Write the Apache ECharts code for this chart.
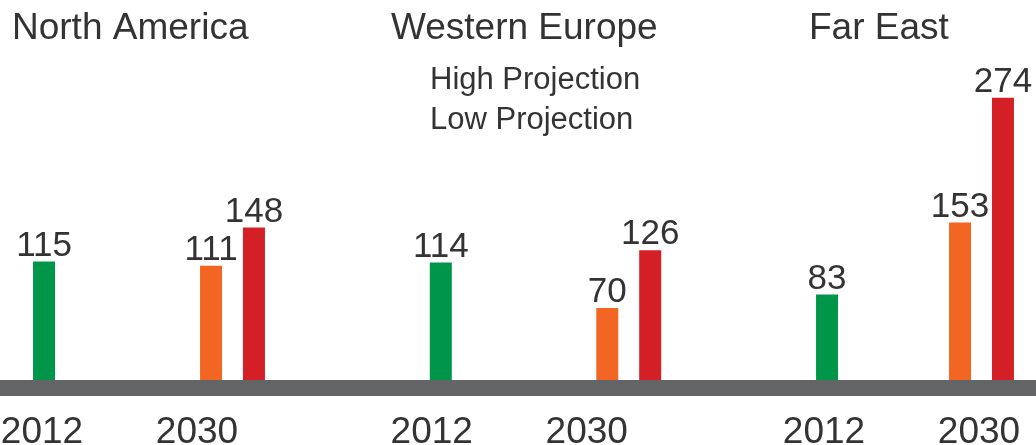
<!DOCTYPE html>
<html>
<head>
<meta charset="utf-8">
<script src="https://cdn.jsdelivr.net/npm/echarts@6/dist/echarts.min.js"></script>
<style>
html,body{margin:0;padding:0;background:#fff;}
#chart{width:1036px;height:445px;}
</style>
</head>
<body>
<div id="chart"></div>
<script>
// ---- data ----
const categories = ['2012', '2030'];
const regions = ['North America', 'Western Europe', 'Far East'];
const base2012 = [115, 114, 83];
const lowProjection = [111, 70, 153];
const highProjection = [148, 126, 274];
const seriesNames = ['2012', 'Low Projection', 'High Projection'];
const legendNames = ['High Projection', 'Low Projection'];

// ---- style / layout ----
const FONT = 'Arial';
const TEXT = '#333333';
const colors = { '2012': '#00964a', 'Low Projection': '#f26522', 'High Projection': '#d41f26' };
const gridLeft = [-18, 379, 782];
const gridWidth = [334, 333, 266];
const labelShift = [[-23.5, -35.5], [-30.5, -42], [-24.5, -2.5]];
const titleLeft = [12, 391, 809];
const yMax = 300;

const chart = echarts.init(document.getElementById('chart'), null, { renderer: 'canvas' });

const grids = [], xAxes = [], yAxes = [], series = [], titles = [];
regions.forEach((r, g) => {
  grids.push({ left: gridLeft[g], width: gridWidth[g], top: 71, bottom: 65, outerBoundsMode: 'none', containLabel: false });
  const rich = {};
  labelShift[g].forEach((s, i) => {
    rich['s' + i] = {
      fontSize: 37, color: TEXT, fontFamily: FONT,
      padding: s < 0 ? [0, -2 * s, 0, 0] : [0, 0, 0, 2 * s]
    };
  });
  xAxes.push({
    type: 'category', gridIndex: g, data: categories,
    axisLine: { show: false }, axisTick: { show: false },
    axisLabel: {
      interval: 0, margin: 34, fontSize: 37, color: TEXT, fontFamily: FONT,
      formatter: (v, i) => '{s' + i + '|' + v + '}', rich: rich
    }
  });
  yAxes.push({ type: 'value', gridIndex: g, min: 0, max: yMax, show: false, splitLine: { show: false } });
  const label = { show: true, position: 'top', distance: -2, fontSize: 35, color: TEXT, fontFamily: FONT };
  series.push({
    name: seriesNames[0], type: 'bar', xAxisIndex: g, yAxisIndex: g, stack: 'g' + g,
    barWidth: 22, barGap: '95%', data: [base2012[g], null],
    itemStyle: { color: colors['2012'] }, label: label
  });
  series.push({
    name: seriesNames[1], type: 'bar', xAxisIndex: g, yAxisIndex: g, stack: 'g' + g,
    barWidth: 22, barGap: '95%', data: [null, lowProjection[g]],
    itemStyle: { color: colors['Low Projection'] }, label: label
  });
  series.push({
    name: seriesNames[2], type: 'bar', xAxisIndex: g, yAxisIndex: g,
    barWidth: 22, barGap: '95%', data: [null, highProjection[g]],
    itemStyle: { color: colors['High Projection'] }, label: label
  });
  titles.push({
    text: r, left: titleLeft[g], top: 10, padding: 0,
    textStyle: { fontSize: 37, fontWeight: 'normal', color: TEXT, fontFamily: FONT }
  });
});

// baseline band
grids.push({ left: 0, right: 0, top: 300, bottom: 57, outerBoundsMode: 'none', containLabel: false });
xAxes.push({
  type: 'value', gridIndex: 3, min: 0, max: 1,
  axisLine: { show: true, onZero: false, lineStyle: { color: '#636466', width: 16 } },
  axisTick: { show: false }, axisLabel: { show: false }, splitLine: { show: false }
});
yAxes.push({ type: 'value', gridIndex: 3, min: 0, max: 1, show: false, splitLine: { show: false } });

chart.setOption({
  backgroundColor: '#ffffff',
  animation: false,
  title: titles,
  legend: {
    data: legendNames.map(n => ({ name: n, icon: 'none' })),
    orient: 'vertical', left: 420, top: 60,
    itemWidth: 0, itemHeight: 31, itemGap: 9,
    textStyle: { fontSize: 31, color: TEXT, fontFamily: FONT },
    selectedMode: false
  },
  grid: grids,
  xAxis: xAxes,
  yAxis: yAxes,
  series: series
});
</script>
</body>
</html>
